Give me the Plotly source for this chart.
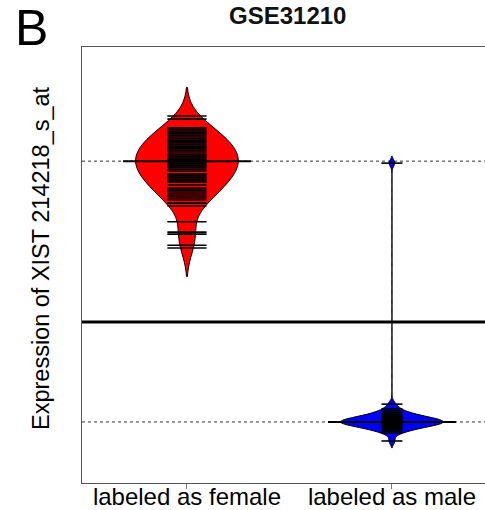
import plotly.graph_objects as go

# ---- data (expression of XIST 214218_s_at) ----
categories = ["labeled as female", "labeled as male"]

female_values = [
    11.26, 11.18, 10.96, 10.92, 10.88, 10.85, 10.81, 10.77, 10.73, 10.69,
    10.65, 10.62, 10.58, 10.54, 10.50, 10.46, 10.43, 10.39,
    10.35, 10.30, 10.28, 10.25, 10.23, 10.20, 10.17, 10.15, 10.12, 10.10,
    10.07, 10.05, 10.02, 10.00, 9.97, 9.92, 9.87, 9.80, 9.77, 9.75,
    9.72, 9.70, 9.67, 9.64, 9.62, 9.59, 9.52, 9.44, 9.39, 9.34,
    9.29, 9.24, 9.19, 9.14, 9.06, 8.99, 8.59, 8.33, 8.28, 8.00, 7.93,
]

male_values = [
    10.07, 3.99, 3.87, 3.82, 3.77, 3.74, 3.72, 3.69, 3.67, 3.67, 3.64, 3.64,
    3.61, 3.61, 3.59, 3.59, 3.56, 3.56, 3.56, 3.54, 3.54, 3.54, 3.51, 3.51,
    3.51, 3.49, 3.49, 3.46, 3.46, 3.44, 3.44, 3.41, 3.39, 3.36, 3.34, 3.31,
    3.26, 3.06,
]

group_average = [10.12, 3.54]
overall_average = 6.06
bandwidths = [0.36, 0.085]

fills = ["#FF0000", "#0000FF"]
beanline_len = [28, 15]

fig = go.Figure()

for i, vals in enumerate([female_values, male_values]):
    fig.add_trace(go.Violin(
        x0=i, y=vals, name=categories[i],
        bandwidth=bandwidths[i], width=0.5, scalemode="width", spanmode="soft",
        fillcolor=fills[i], line=dict(color="black", width=1),
        points="all", pointpos=0, jitter=0,
        marker=dict(symbol="line-ew", size=beanline_len[i], color="black",
                    line=dict(color="black", width=1.6)),
        box_visible=False, meanline_visible=False,
        showlegend=False, hoverinfo="skip", opacity=1,
    ))

for i, avg in enumerate(group_average):
    fig.add_trace(go.Scatter(
        x=[i - 0.312, i + 0.312], y=[avg, avg], mode="lines",
        line=dict(color="black", width=2), showlegend=False, hoverinfo="skip",
    ))
    fig.add_shape(type="line", xref="paper", x0=0, x1=1, yref="y", y0=avg, y1=avg,
                  line=dict(color="#333333", width=1, dash="dot"), layer="below")

fig.add_shape(type="line", xref="paper", x0=0, x1=1, yref="y",
              y0=overall_average, y1=overall_average,
              line=dict(color="black", width=3), layer="below")

fig.update_layout(
    width=485, height=510,
    margin=dict(l=82, r=0, t=47, b=27, autoexpand=False),
    paper_bgcolor="white", plot_bgcolor="white",
    violinmode="overlay",
    font=dict(family="Arial, Liberation Sans, sans-serif", color="black"),
    xaxis=dict(type="linear", range=[-0.512, 1.454], tickvals=[0, 1], ticktext=categories,
               ticks="outside", ticklen=5, tickcolor="#777777", tickwidth=1,
               ticklabelstandoff=-13,
               showline=True, linecolor="#555555", linewidth=1, mirror=True,
               showgrid=False, zeroline=False, automargin=False,
               tickfont=dict(size=24, color="black")),
    yaxis=dict(range=[2.0, 13.0], showticklabels=False, ticks="",
               showline=True, linecolor="#555555", linewidth=1, mirror=False,
               showgrid=False, zeroline=False, automargin=False),
    annotations=[
        dict(text="<b>GSE31210</b>", xref="paper", yref="paper",
             x=(287.5 - 82) / 403, y=(483 - 16) / 436,
             xanchor="center", yanchor="middle", showarrow=False,
             font=dict(size=24, color="#111111")),
        dict(text="B", xref="paper", yref="paper", x=(31 - 82) / 403, y=(483 - 28) / 436,
             xanchor="center", yanchor="middle", showarrow=False,
             font=dict(size=50, color="black")),
        dict(text="Expression of XIST 214218_s_at", xref="paper", yref="paper",
             x=(41 - 82) / 403, y=(483 - 258) / 436, textangle=-90,
             xanchor="center", yanchor="middle", showarrow=False,
             font=dict(size=23.5, color="black")),
    ],
)

fig.write_html("out.html")
